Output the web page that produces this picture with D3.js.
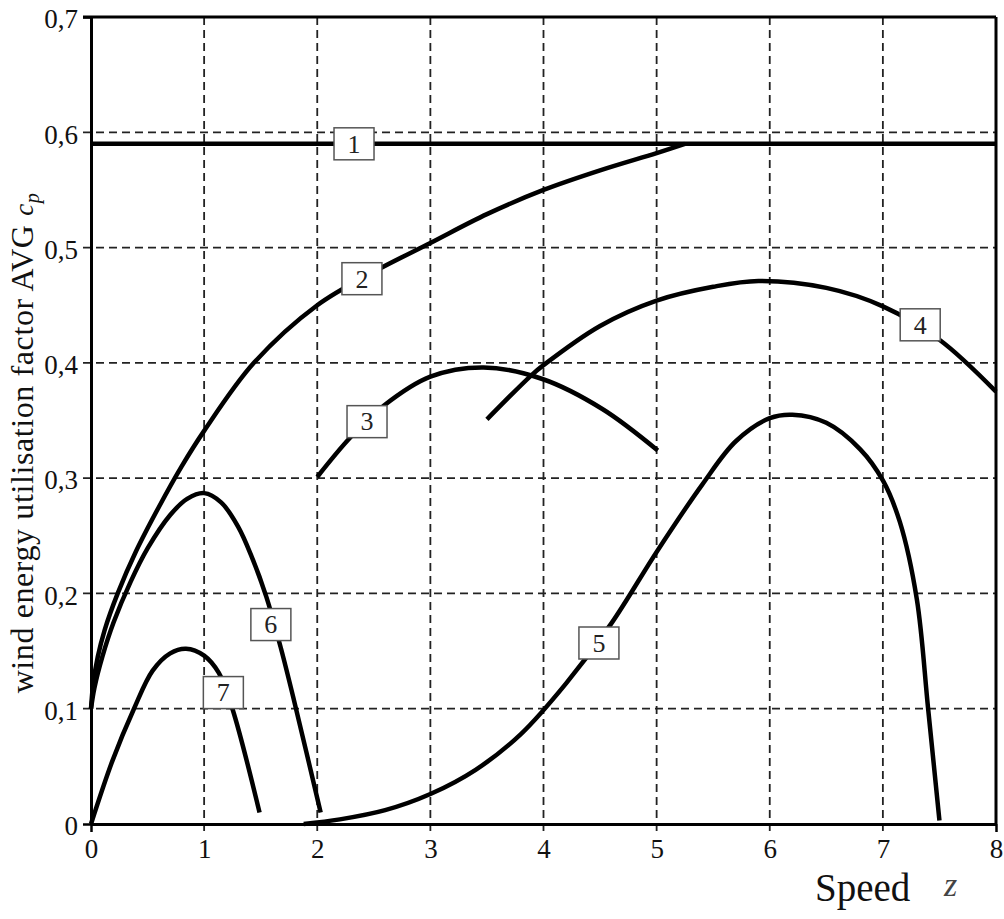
<!DOCTYPE html>
<html>
<head>
<meta charset="utf-8">
<script src="https://cdn.jsdelivr.net/npm/d3@7"></script>
<style>
  body { margin: 0; background: #fff; }
  svg { display: block; font-family: "Liberation Serif", "Times New Roman", serif; }
  svg text { font-family: "Liberation Serif", "Times New Roman", serif !important; }
</style>
</head>
<body>
<svg id="chart" width="1004" height="919"></svg>
<script>
// tick values
const xTicks = [0, 1, 2, 3, 4, 5, 6, 7, 8]
const yTicks = [0, 0.1, 0.2, 0.3, 0.4, 0.5, 0.6, 0.7]

// curves (z, cp)
const c1z = [0, 8]
const c1v = [0.59, 0.59]
const c2z = [0, 0.02, 0.06, 0.12, 0.236, 0.4, 0.6, 0.8, 1.0, 1.44, 2, 2.5, 3, 3.5, 4, 4.5, 5, 5.25]
const c2v = [0.1, 0.122, 0.145, 0.168, 0.2, 0.237, 0.275, 0.31, 0.341, 0.4, 0.45, 0.479, 0.504, 0.529, 0.55, 0.567, 0.582, 0.59]
const c3z = [2.0, 2.29, 2.59, 3.0, 3.47, 3.99, 4.52, 5.01]
const c3v = [0.301, 0.335, 0.363, 0.388, 0.396, 0.386, 0.36, 0.324]
const c4z = [3.5, 3.89, 4.0, 4.5, 5.0, 5.5, 5.9, 6.5, 7.0, 7.5, 8.0]
const c4v = [0.351, 0.389, 0.398, 0.432, 0.454, 0.466, 0.471, 0.465, 0.449, 0.42, 0.375]
const c5z = [1.88, 2.2, 2.6, 3.0, 3.4, 3.8, 4.2, 4.6, 5.0, 5.4, 5.7, 6.0, 6.2, 6.5, 6.8, 7.0, 7.15, 7.3, 7.4, 7.5]
const c5v = [0.0, 0.004, 0.012, 0.026, 0.047, 0.078, 0.122, 0.174, 0.236, 0.294, 0.332, 0.352, 0.355, 0.348, 0.325, 0.298, 0.262, 0.195, 0.1, 0.003]
const c6z = [0, 0.03, 0.1, 0.2, 0.35, 0.5, 0.7, 0.85, 1.0, 1.15, 1.3, 1.42, 1.55, 1.68, 1.8, 2.03]
const c6v = [0.1, 0.118, 0.145, 0.175, 0.21, 0.239, 0.268, 0.282, 0.287, 0.279, 0.258, 0.232, 0.197, 0.152, 0.105, 0.01]
const c7z = [0, 0.19, 0.38, 0.545, 0.7, 0.84, 1.0, 1.13, 1.25, 1.49]
const c7v = [0, 0.055, 0.1, 0.133, 0.148, 0.152, 0.146, 0.131, 0.1, 0.01]

// curve numbers and where their boxes sit (z, cp)
const labelNames = ['1', '2', '3', '4', '5', '6', '7']
const labelZ = [2.325, 2.395, 2.44, 7.33, 4.49, 1.59, 1.17]
const labelV = [0.59, 0.473, 0.349, 0.433, 0.157, 0.173, 0.114]

const curves = [[c1z, c1v], [c2z, c2v], [c3z, c3v], [c4z, c4v], [c5z, c5v], [c6z, c6v], [c7z, c7v]]

const svg = d3.select('#chart')
const x = d3.scaleLinear().domain([0, 8]).range([91, 996])
const y = d3.scaleLinear().domain([0, 0.7]).range([824, 17])

const comma = d3.formatLocale({decimal: ',', thousands: '.', grouping: [3], currency: ['', '']}).format('.1f')
const yFmt = v => v === 0 ? '0' : comma(v)

// dashed grid
const grid = svg.append('g')
  .attr('stroke', '#222')
  .attr('stroke-width', 1.8)
  .attr('stroke-dasharray', '8,5')
grid.selectAll('.hg')
  .data(yTicks.filter(v => v > 0 && v < 0.7))
  .join('line')
    .attr('x1', x(0) - 8).attr('x2', x(8))
    .attr('y1', d => y(d)).attr('y2', d => y(d))
grid.selectAll('.vg')
  .data(xTicks.filter(v => v > 0 && v < 8))
  .join('line')
    .attr('x1', d => x(d)).attr('x2', d => x(d))
    .attr('y1', y(0.7)).attr('y2', y(0) + 8)

// axes (labels + solid end ticks)
const yAxis = svg.append('g')
  .attr('transform', `translate(${x(0)},0)`)
  .call(d3.axisLeft(y).tickValues(yTicks).tickFormat(yFmt).tickSize(8).tickSizeOuter(0).tickPadding(5))
yAxis.selectAll('.tick line')
  .attr('stroke', '#000')
  .attr('stroke-width', 2.5)
  .attr('opacity', d => (d === 0 || d === 0.7) ? 1 : 0)
yAxis.selectAll('text')
  .attr('font-size', 27)
  .attr('fill', '#111')
  .attr('dy', '0.4em')

const xAxis = svg.append('g')
  .attr('transform', `translate(0,${y(0)})`)
  .call(d3.axisBottom(x).tickValues(xTicks).tickFormat(d3.format('d')).tickSize(8).tickSizeOuter(0).tickPadding(7))
xAxis.selectAll('.tick line')
  .attr('stroke', '#000')
  .attr('stroke-width', 2.5)
  .attr('opacity', d => (d === 0 || d === 8) ? 1 : 0)
xAxis.selectAll('text')
  .attr('font-size', 27)
  .attr('fill', '#111')

svg.selectAll('.domain').attr('stroke', '#000').attr('stroke-width', 3)

// frame top and right
svg.append('line')
  .attr('x1', x(0) - 8).attr('x2', x(8))
  .attr('y1', y(0.7)).attr('y2', y(0.7))
  .attr('stroke', '#000').attr('stroke-width', 3)
svg.append('line')
  .attr('x1', x(8)).attr('x2', x(8))
  .attr('y1', y(0.7)).attr('y2', y(0))
  .attr('stroke', '#000').attr('stroke-width', 3)

// curves
const line = d3.line()
  .x(d => x(d[0]))
  .y(d => y(d[1]))
  .curve(d3.curveCatmullRom.alpha(0.5))

svg.append('g')
  .selectAll('path')
  .data(curves.map(([zs, vs]) => zs.map((z, i) => [z, vs[i]])))
  .join('path')
    .attr('d', line)
    .attr('fill', 'none')
    .attr('stroke', '#000')
    .attr('stroke-width', 4.5)
    .attr('stroke-linecap', 'butt')

// number boxes
const lab = svg.append('g')
  .selectAll('g')
  .data(labelNames)
  .join('g')
    .attr('transform', (d, i) => `translate(${x(labelZ[i])},${y(labelV[i])})`)
lab.append('rect')
  .attr('x', -20).attr('y', -16)
  .attr('width', 40).attr('height', 32)
  .attr('fill', '#fff')
  .attr('stroke', '#555')
  .attr('stroke-width', 1.5)
lab.append('text')
  .attr('text-anchor', 'middle')
  .attr('dy', '0.34em')
  .attr('font-size', 26)
  .attr('fill', '#222')
  .text(d => d)

// axis titles
const yt = svg.append('text')
  .attr('transform', 'translate(33,443) rotate(-90)')
  .attr('text-anchor', 'middle')
  .attr('font-size', 32)
  .attr('letter-spacing', 0.6)
  .attr('fill', '#111')
yt.append('tspan').text('wind energy utilisation factor AVG ')
yt.append('tspan').attr('font-style', 'italic').attr('font-size', 27).text('c')
yt.append('tspan').attr('font-style', 'italic').attr('font-size', 20).attr('dy', 6).text('p')

svg.append('text')
  .attr('x', 815).attr('y', 901)
  .attr('font-size', 39)
  .attr('fill', '#111')
  .text('Speed')
svg.append('text')
  .attr('x', 944).attr('y', 896)
  .attr('font-size', 34)
  .attr('font-style', 'italic')
  .attr('fill', '#444')
  .text('z')
</script>
</body>
</html>
